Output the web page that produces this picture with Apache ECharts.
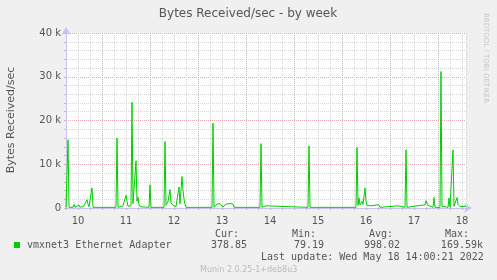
<!DOCTYPE html>
<html>
<head>
<meta charset="utf-8">
<script src="https://cdn.jsdelivr.net/npm/echarts@6/dist/echarts.min.js"></script>
<style>
html,body{margin:0;padding:0;background:#f0f0f0;}
#chart{width:497px;height:280px;}
</style>
</head>
<body>
<div id="chart"></div>
<script>
// x = 30-minute slot index from left edge of the graph (slot 12 = day 10 label)
const seriesName = 'vmxnet3 Ethernet Adapter';
const slots = [0,2,3,7,8,9,13,14,18,19,21,22,23,26,27,50,51,52,57,58,60,61,62,65,66,67,68,70,71,72,73,74,83,84,85,98,99,100,102,104,105,107,109,110,113,114,116,117,118,119,120,130,131,132,146,147,148,150,151,152,154,155,157,159,160,162,164,166,167,168,194,195,196,200,201,242,243,244,290,291,292,293,294,296,297,299,300,301,302,305,306,310,312,313,314,332,333,339,340,341,351,352,354,356,359,360,361,362,363,367,368,369,374,375,376,382,383,384,386,387,388,391,392,393,394,400];
const values = [150,15600,150,150,800,150,700,150,500,900,1900,900,300,4600,150,150,16000,150,500,800,2900,1500,400,500,24200,1000,600,10800,1500,2500,800,300,150,5300,150,150,15200,600,1500,4200,1200,600,900,300,4800,900,7200,4000,2000,800,150,150,600,150,150,19400,150,150,900,700,1000,800,200,200,900,700,1000,1200,900,150,150,14700,150,500,150,150,14200,150,150,13800,600,2300,700,1500,800,4600,1500,600,150,500,150,700,600,700,150,500,150,150,13300,150,500,300,600,500,700,1700,1100,600,150,150,2400,150,150,31200,400,150,2300,150,150,13300,400,2400,800,1000,300,380];
const dayLabels = ['10','11','12','13','14','15','16','17','18'];
const yTickLabels = {0:'0',10000:'10 k',20000:'20 k',30000:'30 k',40000:'40 k'};
const statHeaders = ['Cur:','Min:','Avg:','Max:'];
const statValues = ['378.85','79.19','998.02','169.59k'];

const data = slots.map((s,i)=>[s, values[i]]);
const chart = echarts.init(document.getElementById('chart'), null, {renderer:'canvas'});
const mono = '"DejaVu Sans Mono", monospace';
const sans = '"DejaVu Sans", sans-serif';
const gray = '#d6d6d6', red = '#e8aaaa';

const statHeaderX = [239, 316, 393, 469];
const statValueX = [247, 324, 400, 483];
const graphics = [
  {type:'text', x:248, y:14, style:{text:'Bytes Received/sec - by week', font:'12px '+sans, fill:'#555', align:'center', verticalAlign:'middle'}},
  {type:'text', x:11, y:120, rotation:Math.PI/2, style:{text:'Bytes Received/sec', font:'11px '+sans, fill:'#555', align:'center', verticalAlign:'middle'}},
  {type:'text', x:486, y:58, rotation:-Math.PI/2, style:{text:'RRDTOOL / TOBI OETIKER', font:'7px '+sans, fill:'#c8c8c8', align:'center', verticalAlign:'middle'}},
  {type:'rect', shape:{x:14, y:242, width:6, height:6}, style:{fill:'#00cc00'}},
  {type:'text', x:27, y:245.8, style:{text:seriesName, font:'10px '+mono, fill:'#555', align:'left', verticalAlign:'middle'}},
  {type:'text', x:261, y:257.5, style:{text:'Last update: Wed May 18 14:00:21 2022', font:'10px '+mono, fill:'#555', align:'left', verticalAlign:'middle'}},
  {type:'text', x:200, y:269.5, style:{text:'Munin 2.0.25-1+deb8u3', font:'8px '+sans, fill:'#bbb', align:'left', verticalAlign:'middle'}}
];
statHeaders.forEach((h,i)=>graphics.push({type:'text', x:statHeaderX[i], y:234, style:{text:h, font:'10px '+mono, fill:'#555', align:'right', verticalAlign:'middle'}}));
statValues.forEach((v,i)=>graphics.push({type:'text', x:statValueX[i], y:245.8, style:{text:v, font:'10px '+mono, fill:'#555', align:'right', verticalAlign:'middle'}}));

chart.setOption({
  backgroundColor:'#f0f0f0',
  animation:false,
  grid:{left:66, top:33, width:400, height:175, show:true, backgroundColor:'#ffffff', borderWidth:0, containLabel:false},
  xAxis:{
    type:'value', min:0, max:400, interval:12,
    axisLine:{show:true, lineStyle:{color:'#c4c4f0', width:1}, symbol:['none','arrow'], symbolSize:[7,8], symbolOffset:[0,6]},
    axisTick:{show:true, length:2, lineStyle:{color:'#d0b0b0'}},
    axisLabel:{
      margin:8, color:'#555', fontFamily:'DejaVu Sans', fontSize:10,
      formatter:function(v){ return ((v-12)%48===0) ? dayLabels[(v-12)/48] : ''; }
    },
    splitLine:{show:true, lineStyle:{type:'dotted', width:1, color:[gray,gray,gray,red]}}
  },
  yAxis:{
    type:'value', min:0, max:40000, interval:2000,
    axisLine:{show:true, lineStyle:{color:'#c4c4f0', width:1}, symbol:['none','arrow'], symbolSize:[7,8], symbolOffset:[0,6]},
    axisTick:{show:true, length:2, lineStyle:{color:'#d0b0b0'}},
    axisLabel:{
      margin:5, color:'#555', fontFamily:'DejaVu Sans', fontSize:10,
      formatter:function(v){ return yTickLabels[v] !== undefined ? yTickLabels[v] : ''; }
    },
    splitLine:{show:true, lineStyle:{type:'dotted', width:1, color:[red,gray,gray,gray,gray]}}
  },
  series:[{
    name:seriesName, type:'line', data:data, showSymbol:false, symbol:'none',
    lineStyle:{color:'#00cc00', width:1}, itemStyle:{color:'#00cc00'}, z:5
  }],
  graphic:graphics
});
</script>
</body>
</html>
